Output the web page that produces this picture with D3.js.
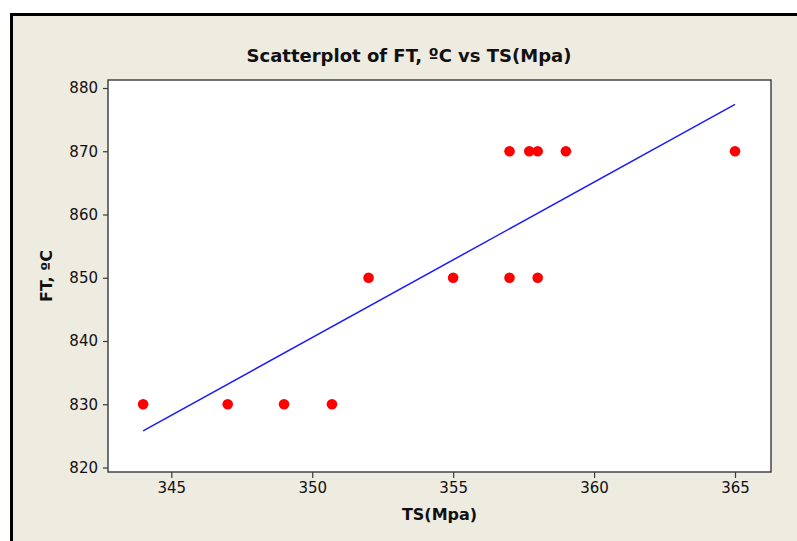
<!DOCTYPE html>
<html>
<head>
<meta charset="utf-8">
<script src="https://cdn.jsdelivr.net/npm/d3@7"></script>
<style>
  html, body { margin: 0; padding: 0; background: #ffffff; }
  svg { display: block; }
</style>
</head>
<body>
<script>
// Tensile strength (MPa) vs. FT (°C) observations
const tsValues = [344, 347, 349, 350.7, 352, 355, 357, 358, 357, 357.7, 358, 359, 365];
const ftValues = [830, 830, 830, 830, 850, 850, 850, 850, 870, 870, 870, 870, 870];

// Fitted line end points (TS, FT)
const fitTS = [344, 365];
const fitFT = [825.8, 877.4];

// Axis ticks
const xTicks = [345, 350, 355, 360, 365];
const yTicks = [820, 830, 840, 850, 860, 870, 880];

const W = 797, H = 541;
const plot = { left: 108, top: 80, right: 771, bottom: 472 };

const svg = d3.select("body").append("svg")
  .attr("width", W).attr("height", H);

// Graph window background and frame
svg.append("rect").attr("x", 0).attr("y", 0).attr("width", W).attr("height", H).attr("fill", "#ffffff");
svg.append("rect").attr("x", 11).attr("y", 14).attr("width", W - 11).attr("height", H - 14).attr("fill", "#eeebe1");
svg.append("line").attr("x1", 10).attr("x2", W).attr("y1", 14.5).attr("y2", 14.5)
  .attr("stroke", "#000").attr("stroke-width", 3);
svg.append("line").attr("x1", 11.5).attr("x2", 11.5).attr("y1", 13).attr("y2", H)
  .attr("stroke", "#000").attr("stroke-width", 3);

const x = d3.scaleLinear().domain([345, 365]).range([171.3, 735]);
const y = d3.scaleLinear().domain([820, 880]).range([467.5, 88]);

// Plot area
svg.append("rect")
  .attr("x", plot.left).attr("y", plot.top)
  .attr("width", plot.right - plot.left).attr("height", plot.bottom - plot.top)
  .attr("fill", "#ffffff").attr("stroke", "#3a3a3a").attr("stroke-width", 1.4);

const font = "'DejaVu Sans', Verdana, sans-serif";

// Axes
const xAxis = svg.append("g")
  .attr("transform", `translate(0,${plot.bottom})`)
  .call(d3.axisBottom(x).tickValues(xTicks).tickSize(6).tickPadding(4).tickFormat(d3.format("d")));
const yAxis = svg.append("g")
  .attr("transform", `translate(${plot.left},0)`)
  .call(d3.axisLeft(y).tickValues(yTicks).tickSize(5).tickPadding(5).tickFormat(d3.format("d")));

[xAxis, yAxis].forEach(g => {
  g.select(".domain").remove();
  g.selectAll(".tick line").attr("stroke", "#3a3a3a").attr("stroke-width", 1.2);
  g.selectAll(".tick text").attr("fill", "#111").style("font-family", font).style("font-size", "15px");
});

// Regression line
svg.append("line")
  .attr("x1", x(fitTS[0])).attr("y1", y(fitFT[0]))
  .attr("x2", x(fitTS[1])).attr("y2", y(fitFT[1]))
  .attr("stroke", "#1a1aff").attr("stroke-width", 1.5);

// Observations
svg.append("g").selectAll("circle")
  .data(tsValues.map((t, i) => [t, ftValues[i]]))
  .join("circle")
  .attr("cx", d => x(d[0])).attr("cy", d => y(d[1]))
  .attr("r", 5.3).attr("fill", "#ff0000");

// Title and axis labels
svg.append("text")
  .attr("x", 409).attr("y", 62)
  .attr("text-anchor", "middle")
  .style("font-family", font).style("font-weight", "bold").style("font-size", "18px")
  .attr("fill", "#111")
  .text("Scatterplot of FT, ºC vs TS(Mpa)");

svg.append("text")
  .attr("x", (plot.left + plot.right) / 2).attr("y", 520)
  .attr("text-anchor", "middle")
  .style("font-family", font).style("font-weight", "bold").style("font-size", "16px")
  .attr("fill", "#111")
  .text("TS(Mpa)");

svg.append("text")
  .attr("transform", `translate(52,${(plot.top + plot.bottom) / 2}) rotate(-90)`)
  .attr("text-anchor", "middle")
  .style("font-family", font).style("font-weight", "bold").style("font-size", "16px")
  .attr("fill", "#111")
  .text("FT, ºC");
</script>
</body>
</html>
